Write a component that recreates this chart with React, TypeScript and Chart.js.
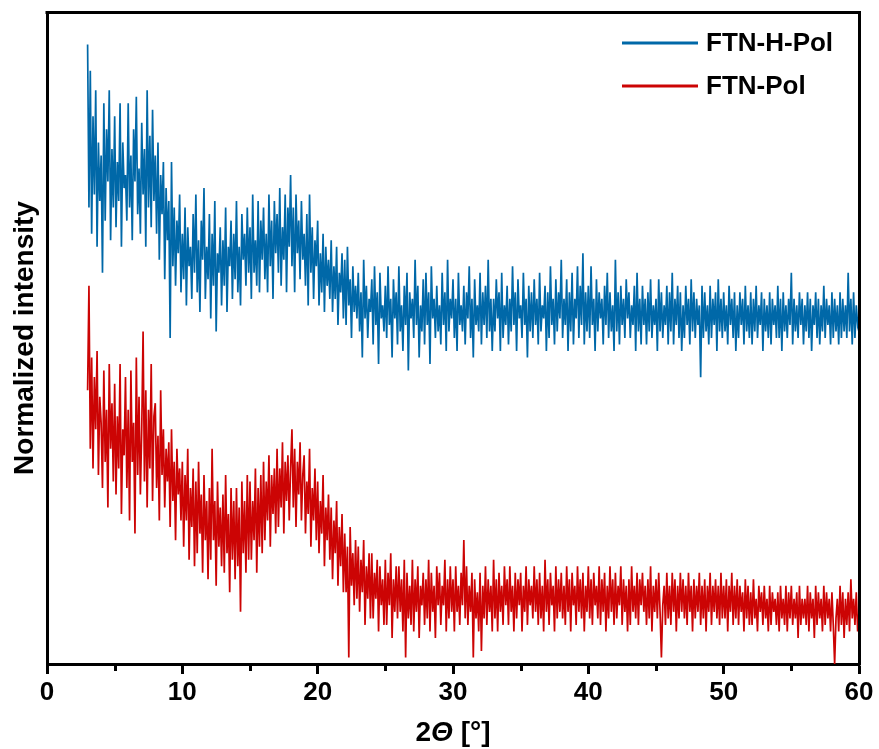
import { useEffect, useRef } from "react";
import { Chart, registerables } from "chart.js";

Chart.register(...registerables);

// 2θ grid of the scans (degrees)
const X_START = 3;
const X_STEP = 0.1;

const xMajorTicks = [0, 10, 20, 30, 40, 50, 60];
const xMinorTicks = [5, 15, 25, 35, 45, 55];

const seriesNames = ["FTN-H-Pol", "FTN-Pol"];
const seriesColors = ["#0068A8", "#CC0404"];

// FTN-H-Pol (offset, normalized intensity), 3.0° .. 60.0° every 0.1°
const ftnHPol = [
  95, 70, 91, 66, 84, 72, 88, 64, 80, 71,
  78, 60, 86, 68, 82, 74, 88, 65, 79, 70,
  84, 67, 77, 71, 86, 64, 80, 73, 75, 68,
  86, 70, 78, 65, 82, 74, 87, 69, 76, 66,
  83, 72, 79, 64, 88, 70, 81, 67, 85, 71,
  78, 66, 80, 62, 75, 69, 77, 59, 73, 65,
  71, 50, 77, 61, 70, 58, 68, 63, 72, 57,
  66, 59, 70, 55, 67, 61, 64, 56, 69, 60,
  72, 57, 65, 54, 68, 62, 73, 56, 64, 59,
  69, 53, 66, 58, 71, 51, 63, 60, 67, 55,
  65, 58, 70, 54, 64, 61, 68, 56, 66, 59,
  71, 57, 64, 55, 69, 62, 66, 58, 70, 60,
  67, 56, 72, 60, 65, 58, 71, 57, 68, 62,
  70, 59, 66, 57, 72, 61, 68, 56, 71, 63,
  69, 60, 73, 58, 67, 62, 72, 57, 70, 64,
  75, 61, 70, 57, 72, 63, 68, 59, 71, 62,
  66, 58, 69, 55, 72, 60, 67, 56, 65, 61,
  68, 55, 63, 57, 66, 54, 64, 58, 62, 56,
  65, 54, 61, 56, 64, 52, 60, 57, 63, 53,
  62, 52, 64, 55, 59, 50, 61, 54, 58, 53,
  60, 51, 57, 47, 62, 53, 58, 50, 56, 54,
  59, 49, 61, 52, 57, 46, 60, 53, 55, 51,
  58, 50, 61, 52, 56, 47, 59, 53, 57, 49,
  61, 51, 55, 48, 58, 52, 60, 45, 57, 53,
  56, 50, 62, 52, 58, 47, 55, 51, 59, 49,
  60, 52, 57, 46, 61, 53, 56, 50, 58, 51,
  55, 49, 60, 52, 57, 48, 62, 51, 56, 53,
  59, 50, 56, 48, 60, 52, 55, 51, 58, 49,
  57, 53, 61, 50, 56, 47, 59, 52, 55, 51,
  60, 49, 57, 52, 58, 50, 62, 51, 56, 48,
  56, 51, 59, 53, 57, 48, 60, 50, 55, 52,
  58, 49, 56, 51, 61, 52, 57, 48, 59, 53,
  55, 50, 60, 52, 56, 47, 58, 51, 57, 50,
  59, 52, 56, 49, 60, 51, 55, 53, 58, 48,
  57, 50, 61, 52, 56, 49, 59, 51, 57, 53,
  62, 50, 56, 52, 59, 48, 57, 51, 60, 49,
  56, 53, 61, 50, 58, 52, 63, 49, 57, 51,
  58, 50, 61, 52, 56, 48, 59, 51, 57, 53,
  56, 49, 58, 52, 60, 50, 57, 51, 55, 48,
  62, 51, 57, 49, 58, 52, 56, 50, 59, 53,
  57, 50, 55, 52, 58, 48, 60, 51, 56, 49,
  58, 52, 56, 49, 57, 51, 59, 50, 55, 52,
  56, 48, 59, 51, 57, 50, 55, 52, 58, 49,
  57, 51, 60, 49, 56, 52, 58, 50, 57, 48,
  55, 50, 58, 52, 56, 49, 59, 51, 57, 50,
  56, 52, 55, 44, 58, 50, 57, 51, 55, 49,
  58, 50, 56, 52, 57, 48, 59, 51, 56, 50,
  57, 51, 55, 49, 58, 52, 56, 50, 57, 48,
  55, 50, 57, 52, 56, 49, 58, 51, 55, 50,
  57, 49, 56, 51, 58, 50, 55, 52, 57, 48,
  56, 51, 55, 50, 57, 49, 56, 52, 55, 50,
  58, 50, 56, 48, 57, 51, 55, 50, 56, 52,
  60, 49, 56, 51, 55, 50, 57, 52, 56, 49,
  55, 51, 57, 50, 56, 48, 55, 52, 57, 50,
  56, 49, 55, 51, 58, 50, 56, 52, 55, 49,
  57, 50, 56, 51, 55, 49, 57, 50, 56, 51,
  55, 50, 60, 51, 56, 49, 57, 50, 55, 52,
  53,
];

// FTN-Pol (normalized intensity), 3.0° .. 60.0° every 0.1°
const ftnPol = [
  42, 58, 33, 47, 30, 44, 36, 48, 29, 41,
  37, 27, 45, 31, 39, 24, 46, 33, 40, 28,
  43, 26, 38, 30, 46, 23, 36, 32, 44, 27,
  39, 22, 45, 31, 37, 20, 47, 29, 41, 26,
  36, 51, 28, 42, 24, 39, 30, 46, 25, 38,
  40, 27, 35, 22, 42, 29, 36, 24, 33, 28,
  34, 21, 36, 25, 31, 19, 33, 26, 30, 22,
  31, 18, 29, 22, 33, 16, 27, 21, 30, 15,
  28, 17, 31, 20, 26, 14, 29, 19, 25, 13,
  27, 16, 33, 19, 25, 12, 28, 18, 24, 15,
  26, 14, 29, 17, 23, 11, 27, 16, 25, 13,
  27, 15, 24, 8, 28, 17, 25, 14, 29, 16,
  28, 16, 25, 19, 30, 14, 27, 18, 29, 17,
  31, 19, 28, 22, 32, 18, 29, 23, 30, 20,
  33, 21, 30, 24, 34, 20, 31, 25, 32, 22,
  30, 36, 24, 33, 21, 31, 26, 34, 22, 29,
  32, 20, 28, 23, 33, 18, 27, 22, 30, 19,
  28, 17, 25, 20, 29, 15, 24, 19, 26, 16,
  24, 13, 22, 17, 25, 12, 21, 15, 23, 11,
  20, 11, 18, 1, 21, 12, 17, 9, 19, 10,
  18, 8, 16, 11, 19, 6, 15, 10, 17, 7,
  17, 7, 14, 10, 16, 5, 15, 9, 13, 6,
  16, 6, 14, 9, 17, 4, 13, 8, 15, 7,
  15, 8, 13, 5, 16, 1, 14, 7, 12, 6,
  16, 5, 13, 8, 15, 4, 12, 9, 14, 6,
  13, 7, 16, 5, 14, 8, 12, 4, 15, 9,
  14, 6, 12, 9, 16, 5, 13, 7, 15, 8,
  13, 5, 15, 8, 12, 6, 14, 9, 19, 7,
  15, 6, 12, 8, 14, 1, 13, 7, 11, 5,
  14, 2, 12, 7, 15, 6, 13, 8, 12, 5,
  16, 7, 13, 5, 14, 8, 12, 6, 15, 9,
  13, 6, 15, 8, 12, 5, 14, 7, 13, 9,
  14, 5, 12, 8, 15, 6, 13, 9, 12, 7,
  15, 8, 13, 6, 14, 7, 12, 5, 16, 8,
  13, 6, 14, 9, 12, 5, 15, 7, 13, 8,
  14, 7, 12, 6, 15, 8, 13, 5, 14, 9,
  12, 6, 15, 8, 13, 7, 14, 5, 12, 8,
  15, 7, 13, 6, 14, 9, 12, 7, 15, 6,
  13, 8, 14, 5, 12, 7, 15, 8, 13, 6,
  14, 7, 12, 9, 15, 6, 13, 8, 12, 5,
  13, 6, 15, 8, 12, 7, 14, 6, 13, 9,
  14, 8, 12, 6, 13, 7, 15, 5, 12, 8,
  13, 7, 14, 8, 1, 9, 12, 6, 14, 7,
  12, 6, 14, 8, 13, 5, 12, 7, 14, 8,
  13, 7, 12, 6, 14, 8, 12, 5, 13, 7,
  12, 8, 14, 6, 12, 7, 13, 5, 12, 8,
  14, 6, 12, 8, 13, 7, 12, 6, 14, 7,
  12, 7, 13, 5, 12, 8, 14, 6, 12, 7,
  13, 6, 12, 8, 11, 5, 13, 7, 12, 6,
  11, 6, 13, 7, 10, 5, 12, 8, 11, 6,
  12, 7, 10, 5, 12, 6, 11, 8, 10, 6,
  11, 5, 12, 7, 10, 6, 12, 5, 11, 7,
  12, 6, 10, 7, 11, 4, 12, 6, 10, 7,
  10, 6, 12, 5, 11, 7, 10, 4, 12, 6,
  11, 7, 10, 5, 12, 6, 11, 7, 10, 5,
  11, 6, 0, 7, 10, 5, 12, 6, 11, 4,
  10, 6, 11, 5, 13, 7, 10, 6, 11, 5,
  8,
];

const Y_MIN = 0;
const Y_MAX = 100;

const FONT_FAMILY = "'Liberation Sans', Arial, Helvetica, sans-serif";

const toPoints = (vals: number[]) =>
  vals.map((v, i) => ({ x: +(X_START + i * X_STEP).toFixed(2), y: v }));

const framePlugin = {
  id: "frameAndExtras",
  afterDatasetsDraw(chart: any) {
    const { ctx, chartArea } = chart;
    const { left, right, top, bottom } = chartArea;
    const xScale = chart.scales.x;
    ctx.save();
    ctx.strokeStyle = "#000";
    ctx.lineWidth = 3;
    ctx.lineCap = "butt";
    // top + right frame
    ctx.beginPath();
    ctx.moveTo(left - 1.5, top + 0.5);
    ctx.lineTo(right + 0.5, top + 0.5);
    ctx.lineTo(right + 0.5, bottom + 1.5);
    ctx.stroke();
    // minor ticks
    ctx.beginPath();
    for (const v of xMinorTicks) {
      const px = Math.round(xScale.getPixelForValue(v)) + 0.5;
      ctx.moveTo(px, bottom);
      ctx.lineTo(px, bottom + 7);
    }
    ctx.stroke();

    // legend
    const ds = chart.data.datasets;
    ctx.font = `bold 26px ${FONT_FAMILY}`;
    ctx.textBaseline = "middle";
    ctx.textAlign = "left";
    ds.forEach((d: any, i: number) => {
      const y = top + 31 + i * 43;
      ctx.strokeStyle = d.borderColor;
      ctx.lineWidth = 3;
      ctx.beginPath();
      ctx.moveTo(right - 237, y);
      ctx.lineTo(right - 161, y);
      ctx.stroke();
      ctx.fillStyle = "#000";
      ctx.fillText(d.label, right - 153, y + 1);
    });

    // x-axis title: 2Θ [°]
    const parts = [
      { t: "2", f: `bold 28px ${FONT_FAMILY}` },
      { t: "Θ", f: `italic bold 28px ${FONT_FAMILY}` },
      { t: " [°]", f: `bold 28px ${FONT_FAMILY}` },
    ];
    let total = 0;
    const widths = parts.map((p) => {
      ctx.font = p.f;
      const w = ctx.measureText(p.t).width;
      total += w;
      return w;
    });
    let x = (left + right) / 2 - total / 2;
    const ty = bottom + 69;
    ctx.fillStyle = "#000";
    parts.forEach((p, i) => {
      ctx.font = p.f;
      ctx.fillText(p.t, x, ty);
      x += widths[i];
    });
    ctx.restore();
  },
};

export default function App() {
  const canvasRef = useRef<HTMLCanvasElement | null>(null);

  useEffect(() => {
    if (!canvasRef.current) return;
    const chart = new Chart(canvasRef.current, {
      type: "line",
      data: {
        datasets: [
          {
            label: seriesNames[0],
            data: toPoints(ftnHPol),
            borderColor: seriesColors[0],
            backgroundColor: seriesColors[0],
            borderWidth: 1.7,
            pointRadius: 0,
            tension: 0,
            fill: false,
          },
          {
            label: seriesNames[1],
            data: toPoints(ftnPol),
            borderColor: seriesColors[1],
            backgroundColor: seriesColors[1],
            borderWidth: 1.7,
            pointRadius: 0,
            tension: 0,
            fill: false,
          },
        ],
      },
      options: {
        animation: false,
        responsive: true,
        maintainAspectRatio: false,
        layout: { padding: { top: 12, right: 20, left: 0, bottom: 0 } },
        plugins: {
          legend: { display: false },
          tooltip: { enabled: false },
        },
        scales: {
          x: {
            type: "linear",
            min: 0,
            max: 60,
            afterBuildTicks: (s: any) => {
              s.ticks = xMajorTicks.map((v) => ({ value: v }));
            },
            afterFit: (s: any) => {
              s.height = 85;
            },
            ticks: {
              color: "#000",
              padding: 3,
              maxRotation: 0,
              autoSkip: false,
              font: { family: FONT_FAMILY, weight: "bold", size: 26 },
            },
            grid: {
              display: true,
              drawOnChartArea: false,
              drawTicks: true,
              tickLength: 10,
              tickWidth: 3,
              tickColor: "#000",
            },
            border: { display: true, width: 3, color: "#000" },
          },
          y: {
            min: Y_MIN,
            max: Y_MAX,
            afterFit: (s: any) => {
              s.width = 47;
            },
            ticks: { display: false },
            grid: { display: false, drawTicks: false },
            border: { display: true, width: 3, color: "#000" },
            title: {
              display: true,
              text: "Normalized intensity",
              color: "#000",
              padding: { top: 8, bottom: 0 },
              font: { family: FONT_FAMILY, weight: "bold", size: 28 },
            },
          },
        },
      },
      plugins: [framePlugin],
    } as any);
    return () => chart.destroy();
  }, []);

  return (
    <div
      style={{
        position: "fixed",
        left: 0,
        top: 0,
        width: 879,
        height: 749,
        background: "#fff",
      }}
    >
      <canvas ref={canvasRef} />
    </div>
  );
}
